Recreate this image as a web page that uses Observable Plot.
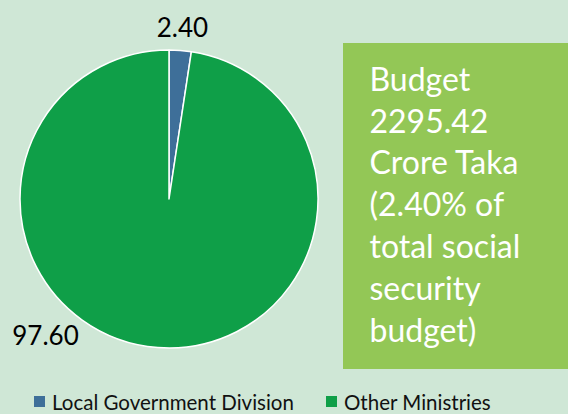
<!DOCTYPE html>
<html>
<head>
<meta charset="utf-8">
<script src="https://cdn.jsdelivr.net/npm/d3@7"></script>
<script src="https://cdn.jsdelivr.net/npm/@observablehq/plot@0.6"></script>
<style>
  html, body { margin: 0; padding: 0; background: #cfe7d6; }
  #chart svg { display: block; }
</style>
</head>
<body>
<div id="chart"></div>
<script>
const categories = ["Local Government Division", "Other Ministries"];
const values = [2.40, 97.60];
const valueLabels = ["2.40", "97.60"];
const colors = ["#3e6f99", "#0f9f48"];
const boxLines = ["Budget", "2295.42", "Crore Taka", "(2.40% of", "total social", "security", "budget)"];

const W = 568, H = 414;
const cx = 169, cy = 199, R = 149;
const FONT = "Lato, 'Open Sans', sans-serif";

const slices = d3.pie().sort(null).value(d => d.value)(
  categories.map((c, i) => ({category: c, value: values[i], label: valueLabels[i], color: colors[i]}))
);

function pieMark(index, scales) {
  const g = d3.create("svg:g");
  const arc = d3.arc().innerRadius(0).outerRadius(R);
  const x0 = scales.x(cx), y0 = scales.y(cy);
  g.attr("transform", `translate(${x0},${y0})`);
  g.selectAll("path").data(slices).join("path")
    .attr("d", arc)
    .attr("fill", d => d.data.color)
    .attr("stroke", "#ffffff")
    .attr("stroke-width", 1.5)
    .attr("stroke-linejoin", "round");
  return g.node();
}

// label anchor positions derived from slice angles
const labelData = slices.map((s, i) => {
  const mid = (s.startAngle + s.endAngle) / 2;
  if (i === 0) {
    const r = R + 22;
    return {label: s.data.label, x: cx + r * Math.sin(mid), y: cy - r * Math.cos(mid)};
  }
  return {label: s.data.label, x: 45, y: 336};
});

const legendData = categories.map((c, i) => ({category: c, color: colors[i], x: i === 0 ? 39.5 : 331.5}));

const plot = Plot.plot({
  width: W,
  height: H,
  margin: 0,
  x: {domain: [0, W], range: [0, W], axis: null},
  y: {domain: [0, H], range: [0, H], axis: null},
  style: {background: "#cfe7d6", fontFamily: FONT, overflow: "visible"},
  marks: [
    pieMark,
    Plot.text(labelData, {x: "x", y: "y", text: "label", fontSize: 26, fill: "#000", textAnchor: "middle", lineAnchor: "middle"}),
    Plot.rect([0], {x1: 343, x2: W, y1: 43, y2: 369, fill: "#93c756"}),
    Plot.text(boxLines, {x: 369, y: (d, i) => 80 + i * 41.8, text: d => d, fontSize: 32, fill: "#ffffff", textAnchor: "start", lineAnchor: "middle"}),
    Plot.rect(legendData, {x1: d => d.x - 5.5, x2: d => d.x + 5.5, y1: 396, y2: 407, fill: "color"}),
    Plot.text(legendData, {x: d => d.x + 12, y: 402.5, text: "category", fontSize: 20.5, fill: "#111", textAnchor: "start", lineAnchor: "middle"})
  ],
  color: {type: "identity"}
});
document.getElementById("chart").appendChild(plot);
</script>
</body>
</html>
